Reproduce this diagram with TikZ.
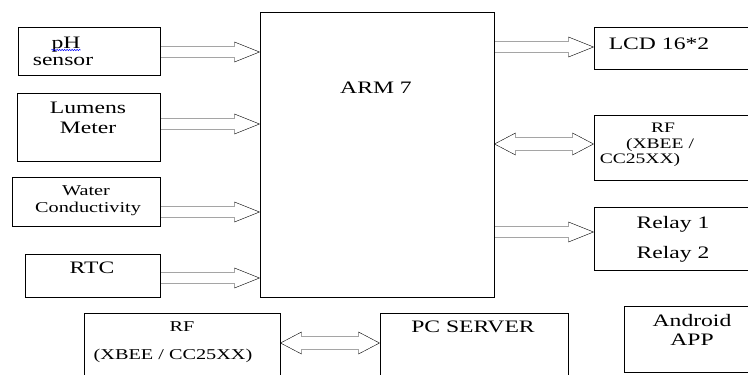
\documentclass[tikz,border=0pt]{standalone}
\usepackage{fontspec}
\setmainfont{Liberation Serif}
\usetikzlibrary{calc,decorations.pathmorphing}

\newcommand{\wide}[1]{\scalebox{1.35}[1]{#1}}

\tikzset{
  box/.style={draw,line width=1pt,inner sep=0pt},
  lbl/.style={inner sep=0pt,anchor=base,font=\fontsize{17.5}{20}\selectfont},
  sml/.style={inner sep=0pt,anchor=base,font=\fontsize{15}{17}\selectfont},
  tiny/.style={inner sep=0pt,anchor=base,font=\fontsize{14.5}{16}\selectfont},
  fatin/.style={line width=0.8pt,draw=black!85,to path={let \p1=(\tikztostart),\p2=(\tikztotarget) in
    (\x1,\y1+5.5pt) -- (\x2-25pt,\y1+5.5pt) -- (\x2-25pt,\y1+10pt) -- (\x2,\y1)
    -- (\x2-25pt,\y1-10pt) -- (\x2-25pt,\y1-5.5pt) -- (\x1,\y1-5.5pt)}},
  fatout/.style={line width=0.8pt,draw=black!85,to path={let \p1=(\tikztostart),\p2=(\tikztotarget) in
    (\x1,\y2+5.5pt) -- (\x2-25pt,\y2+5.5pt) -- (\x2-25pt,\y2+10pt) -- (\x2,\y2)
    -- (\x2-25pt,\y2-10pt) -- (\x2-25pt,\y2-5.5pt) -- (\x1,\y2-5.5pt)}},
  fatboth/.style={line width=0.8pt,draw=black!85,to path={let \p1=(\tikztostart),\p2=(\tikztotarget) in
    (\x1,\y2) -- (\x1+21pt,\y2+11pt) -- (\x1+21pt,\y2+6.5pt) -- (\x2-21pt,\y2+6.5pt)
    -- (\x2-21pt,\y2+11pt) -- (\x2,\y2) -- (\x2-21pt,\y2-11pt) -- (\x2-21pt,\y2-6.5pt)
    -- (\x1+21pt,\y2-6.5pt) -- (\x1+21pt,\y2-11pt) -- cycle}},
}

\begin{document}
\begin{tikzpicture}[x=1pt,y=-1pt]
\useasboundingbox (0,0) rectangle (748,375);
\clip (0,0) rectangle (748,375);

\node (ph) at (89,51)[box,minimum width=142pt,minimum height=48pt]{};
\node (lum) at (88.5,127)[box,minimum width=143pt,minimum height=68pt]{};
\node (wat) at (86,201.5)[box,minimum width=148pt,minimum height=49pt]{};
\node (rtc) at (92.5,275.5)[box,minimum width=135pt,minimum height=43pt]{};
\node (arm) at (377,154.5)[box,minimum width=234pt,minimum height=285pt]{};
\node (lcd) at (673,48)[box,minimum width=158pt,minimum height=42pt]{};
\node (rfr) at (673,147.5)[box,minimum width=158pt,minimum height=65pt]{};
\node (rel) at (673,238.5)[box,minimum width=158pt,minimum height=63pt]{};
\node (and) at (688,339)[box,minimum width=128pt,minimum height=66pt]{};
\node (rfb) at (182,349)[box,minimum width=196pt,minimum height=72pt]{};
\node (pc) at (474,349)[box,minimum width=188pt,minimum height=72pt]{};

\node (phtxt) at (66,48)[lbl]{\wide{pH}};
\node (sens) at (63,65)[lbl]{\wide{sensor}};
\node (lumtxt) at (88,113.5)[lbl]{\wide{Lumens}};
\node (met) at (88,133.5)[lbl]{\wide{Meter}};
\node (wattxt) at (86,195)[sml]{\wide{Water}};
\node (cond) at (88,212)[sml]{\wide{Conductivity}};
\node (rtctxt) at (92,273)[lbl]{\wide{RTC}};
\node (armtxt) at (376,93)[lbl]{\wide{ARM 7}};
\node (lcdtxt) at (659,49)[lbl]{\wide{LCD 16*2}};
\node (rfrtxt) at (663,132)[tiny]{\wide{RF}};
\node (xb1) at (660,148)[tiny]{\wide{(XBEE /}};
\node (xb2) at (640,163)[tiny]{\wide{CC25XX)}};
\node (rel1) at (673,228)[lbl]{\wide{Relay 1}};
\node (rel2) at (673,258)[lbl]{\wide{Relay 2}};
\node (andtxt) at (692,326)[lbl]{\wide{Android}};
\node (app) at (692,345)[lbl]{\wide{APP}};
\node (pctxt) at (473,332)[lbl]{\wide{PC SERVER}};
\node (rfbtxt) at (182,331)[sml]{\wide{RF}};
\node (xb3) at (173,359)[sml]{\wide{(XBEE / CC25XX)}};

\draw[blue,line width=0.5pt,decorate,decoration={snake,amplitude=0.7pt,segment length=2.5pt}]
  ([yshift=-2pt]phtxt.base west) -- ([yshift=-2pt]phtxt.base east);

\foreach \s/\d in {ph/-1,lum/3,wat/-10.5,rtc/-2.5}
  \draw ([yshift=\d pt]\s.east) to[fatin] (arm.west);

\draw (arm.east) to[fatout] ([yshift=1pt]lcd.west);
\draw (arm.east) to[fatout] ([yshift=6.5pt]rel.west);
\draw (arm.east) to[fatboth] ([yshift=3.5pt]rfr.west);
\draw (rfb.east) to[fatboth] ([yshift=6pt]pc.west);

\end{tikzpicture}
\end{document}
